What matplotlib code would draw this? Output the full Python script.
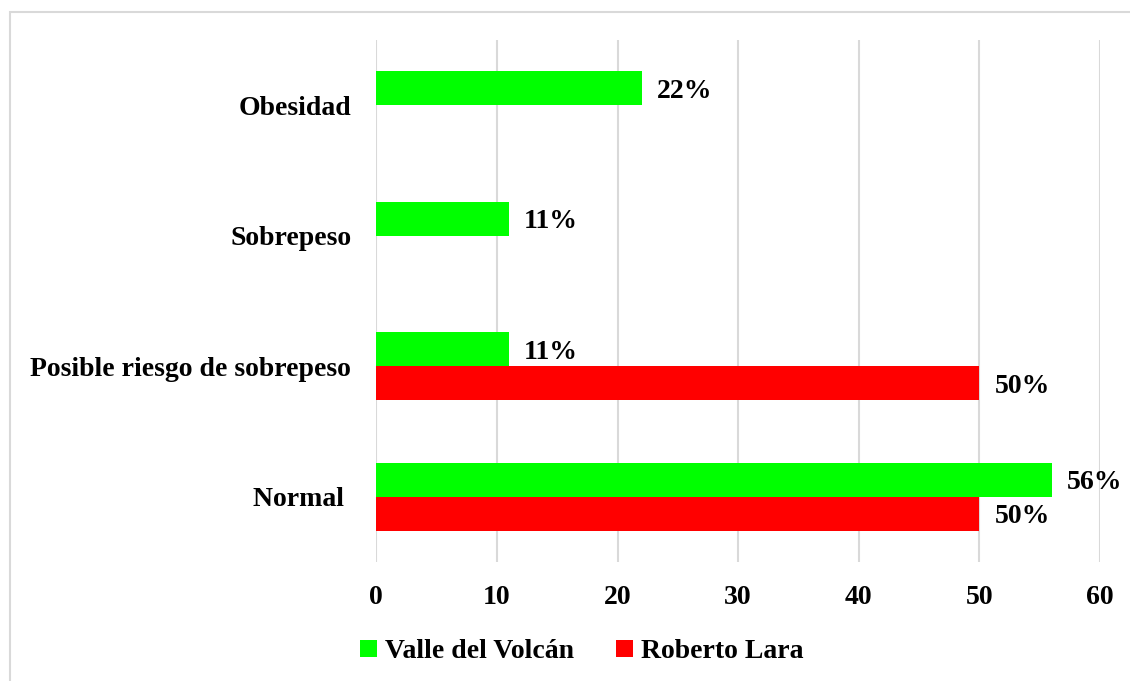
import numpy as np
import matplotlib
matplotlib.use("Agg")
import matplotlib.pyplot as plt
from matplotlib.patches import Rectangle

categorias = ["Normal ", "Posible riesgo de sobrepeso", "Sobrepeso", "Obesidad"]
valle = [56, 11, 11, 22]
roberto = [50, 50, 0, 0]
series = ["Valle del Volcán", "Roberto Lara"]
xticks = [0, 10, 20, 30, 40, 50, 60]

plt.rcParams["font.family"] = ["Liberation Serif", "DejaVu Serif"]
plt.rcParams["font.weight"] = "bold"

fig = plt.figure(figsize=(11.3, 6.81), dpi=100)
ax = fig.add_axes([0.333, 0.175, 0.6405, 0.766])

# light border around the chart area
fig.patches.append(Rectangle((10 / 1130, -0.01), 1.1, 1 - 12 / 681 + 0.01,
                             transform=fig.transFigure, fill=False,
                             edgecolor="#d9d9d9", linewidth=1.5))

y = np.arange(len(categorias))
h = 0.26
b1 = ax.barh(y + h / 2, valle, height=h, color="#00ff00", label=series[0], zorder=2)
b2 = ax.barh(y - h / 2, roberto, height=h, color="#ff0000", label=series[1], zorder=2)

for bars, vals in ((b1, valle), (b2, roberto)):
    for bar, v in zip(bars, vals):
        if v == 0:
            continue
        ax.annotate("{}%".format(v), (bar.get_width(), bar.get_y() + bar.get_height() / 2),
                    xytext=(15, -3), textcoords="offset pixels",
                    va="center", ha="left", fontsize=20, fontweight="bold")

ax.set_xlim(0, 60)
ax.set_ylim(-0.5, 3.5)
ax.set_xticks(xticks)
ax.set_yticks(y)
ax.set_yticklabels(categorias)
ax.tick_params(axis="both", length=0, labelsize=20)
ax.tick_params(axis="x", pad=17)
ax.tick_params(axis="y", pad=18)
for lbl in ax.get_xticklabels() + ax.get_yticklabels():
    lbl.set_fontweight("bold")
ax.xaxis.grid(True, color="#d9d9d9", linewidth=1.5, zorder=0)
ax.set_axisbelow(True)
for s in ax.spines.values():
    s.set_visible(False)

leg = fig.legend(handles=[b1, b2], labels=series, loc="center",
                 bbox_to_anchor=(0.515, 0.043), ncol=2, frameon=False,
                 prop={"size": 20, "weight": "bold"}, handlelength=0.6,
                 handleheight=0.6, handletextpad=0.3, columnspacing=1.5)

fig.savefig("out.png", dpi=100)
